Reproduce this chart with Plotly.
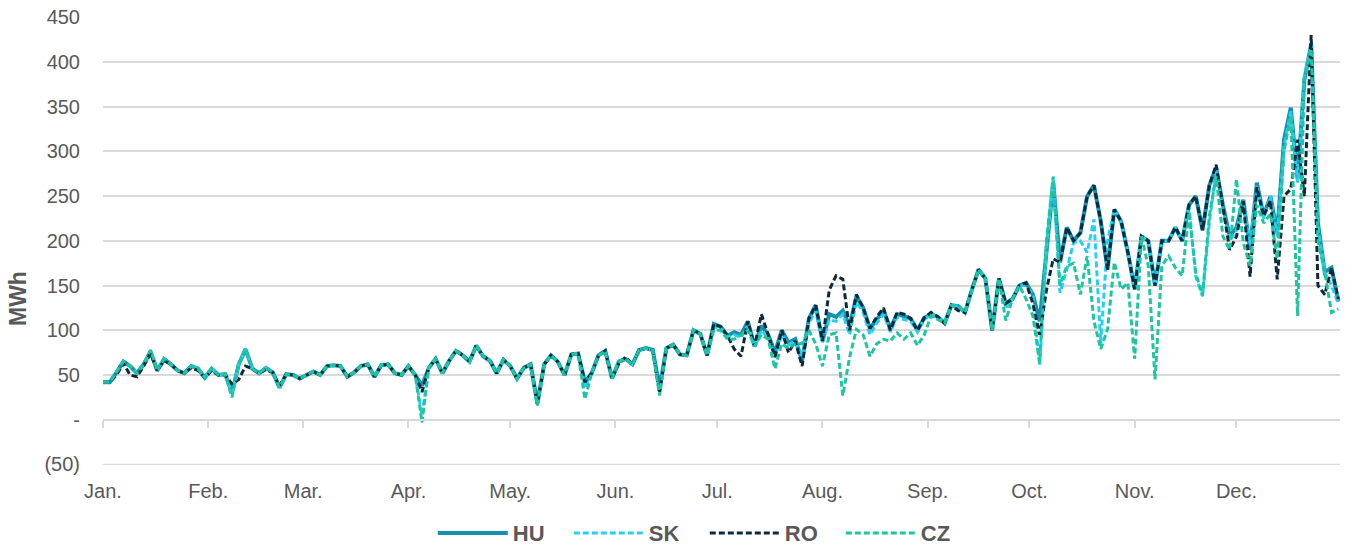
import pandas as pd
import plotly.graph_objects as go

# Samples every 2 days of 2023
dates = pd.date_range("2023-01-01", periods=183, freq="2D")

month_ticks = pd.date_range("2023-01-01", periods=12, freq="MS")
month_labels = ["Jan.", "Feb.", "Mar.", "Apr.", "May.", "Jun.",
                "Jul.", "Aug.", "Sep.", "Oct.", "Nov.", "Dec."]

y_tickvals = [-50, 0, 50, 100, 150, 200, 250, 300, 350, 400, 450]
y_ticktext = ["(50)", "-", "50", "100", "150", "200", "250", "300", "350", "400", "450"]

HU = [
    42, 42, 53, 65, 60, 52, 62, 76, 55, 68, 62, 55, 52, 60, 57,
    47, 57, 50, 51, 30, 62, 79, 57, 52, 58, 53, 36, 51, 50, 46,
    50, 54, 50, 60, 61, 60, 48, 53, 60, 62, 48, 61, 62, 52, 50,
    60, 50, 38, 58, 68, 52, 66, 77, 72, 65, 83, 71, 66, 52, 67,
    60, 46, 58, 62, 18, 62, 72, 65, 50, 73, 74, 42, 52, 72, 77,
    46, 65, 68, 62, 78, 80, 78, 35, 80, 84, 73, 72, 100, 96, 72,
    107, 104, 94, 98, 95, 110, 82, 105, 95, 75, 100, 86, 90, 66, 113,
    128, 88, 118, 115, 122, 105, 138, 125, 102, 112, 122, 102, 118, 116, 113,
    100, 114, 118, 115, 108, 128, 127, 120, 145, 168, 158, 100, 158, 130, 135,
    150, 153, 140, 110, 190, 265, 176, 215, 200, 209, 250, 262, 222, 168, 235,
    222, 187, 146, 205, 200, 150, 200, 200, 215, 200, 240, 250, 212, 262, 282,
    240, 205, 215, 246, 190, 265, 228, 250, 209, 313, 349, 269, 380, 420, 220,
    165, 170, 132,
]

SK = [
    42, 42, 53, 65, 60, 52, 62, 76, 55, 68, 62, 55, 52, 60, 57,
    47, 57, 50, 51, 30, 62, 79, 57, 52, 58, 53, 36, 51, 50, 46,
    50, 54, 50, 60, 61, 60, 48, 53, 60, 62, 48, 61, 62, 52, 50,
    60, 50, 5, 58, 68, 52, 66, 77, 72, 65, 83, 71, 66, 52, 67,
    60, 46, 58, 62, 16, 62, 72, 65, 50, 73, 74, 35, 52, 72, 77,
    46, 65, 68, 62, 78, 80, 78, 30, 80, 84, 73, 72, 100, 96, 72,
    104, 102, 92, 95, 92, 105, 82, 100, 92, 70, 95, 84, 88, 70, 108,
    122, 86, 112, 110, 118, 95, 132, 120, 95, 108, 118, 98, 115, 112, 110,
    98, 112, 118, 115, 108, 128, 127, 120, 145, 168, 158, 100, 158, 125, 135,
    150, 150, 140, 60, 190, 270, 142, 168, 198, 200, 187, 224, 86, 200, 235,
    222, 187, 146, 205, 200, 150, 200, 200, 215, 200, 240, 160, 138, 220, 280,
    235, 200, 212, 242, 195, 262, 225, 250, 205, 305, 345, 265, 385, 418, 215,
    165, 150, 130,
]

RO = [
    42, 42, 50, 63, 50, 48, 60, 74, 55, 66, 62, 55, 52, 58, 55,
    47, 55, 50, 50, 40, 45, 60, 57, 52, 56, 53, 38, 51, 50, 46,
    50, 54, 50, 60, 61, 60, 48, 53, 60, 62, 48, 61, 62, 52, 50,
    60, 50, 31, 58, 68, 52, 66, 77, 72, 65, 83, 71, 66, 52, 67,
    60, 46, 58, 62, 18, 62, 72, 65, 50, 73, 74, 42, 52, 72, 77,
    46, 63, 70, 62, 78, 80, 78, 30, 80, 84, 73, 72, 100, 96, 72,
    107, 104, 94, 79, 71, 110, 82, 118, 95, 70, 100, 75, 88, 60, 113,
    128, 88, 145, 161, 157, 100, 140, 125, 102, 115, 125, 100, 120, 118, 113,
    100, 114, 120, 115, 108, 128, 122, 120, 145, 168, 158, 100, 158, 130, 135,
    150, 153, 130, 95, 145, 180, 176, 215, 200, 209, 250, 262, 222, 168, 235,
    222, 187, 146, 205, 200, 150, 200, 200, 215, 200, 240, 250, 212, 262, 285,
    240, 190, 205, 244, 160, 260, 228, 245, 157, 250, 258, 313, 250, 430, 150,
    140, 170, 135,
]

CZ = [
    42, 42, 53, 65, 60, 52, 62, 78, 55, 68, 62, 55, 52, 60, 57,
    47, 57, 50, 51, 25, 62, 79, 57, 52, 58, 53, 36, 51, 50, 46,
    50, 54, 50, 60, 61, 60, 48, 53, 60, 62, 48, 61, 62, 52, 50,
    60, 50, -3, 58, 68, 52, 66, 77, 72, 65, 83, 71, 66, 52, 67,
    60, 46, 58, 62, 16, 62, 72, 65, 50, 73, 74, 23, 52, 72, 77,
    46, 65, 68, 62, 78, 80, 78, 27, 80, 84, 73, 72, 100, 96, 72,
    100, 100, 90, 90, 95, 100, 82, 95, 90, 57, 85, 80, 85, 85, 100,
    85, 60, 95, 97, 27, 70, 101, 95, 71, 85, 90, 88, 97, 90, 97,
    83, 95, 116, 112, 108, 128, 127, 120, 145, 168, 158, 100, 158, 111, 135,
    150, 135, 116, 64, 200, 272, 150, 172, 175, 140, 183, 110, 79, 101, 176,
    146, 153, 68, 205, 172, 45, 172, 183, 170, 161, 232, 164, 139, 228, 272,
    205, 190, 269, 198, 172, 240, 220, 230, 180, 300, 340, 116, 380, 415, 200,
    165, 120, 124,
]

series = [
    ("HU", HU, "#1590AE", 4, "solid", "x"),
    ("SK", SK, "#22D1F2", 3, "6px,3px", "x"),
    ("RO", RO, "#0B2A3A", 3, "6px,3px", "x"),
    ("CZ", CZ, "#1DC6A0", 3, "6px,3px", "x2"),
]

fig = go.Figure()
for name, vals, color, width, dash, xa in series:
    fig.add_trace(go.Scatter(
        x=dates, y=vals, name=name, mode="lines", xaxis=xa, yaxis="y",
        line=dict(color=color, width=width, dash=dash),
    ))

grid = "#d9d9d9"
txt = "#595959"
font_family = "Liberation Sans, Arial, sans-serif"

fig.update_layout(
    width=1349, height=549,
    margin=dict(l=103, r=9, t=17, b=84, autoexpand=False),
    paper_bgcolor="white", plot_bgcolor="white",
    font=dict(family=font_family, color=txt),
    xaxis=dict(
        type="date",
        range=["2023-01-01", "2023-12-31 12:00"],
        tickmode="array", tickvals=month_ticks, ticktext=month_labels,
        showgrid=False, showline=False, zeroline=False, ticks="",
        tickfont=dict(size=20, color=txt), ticklabelstandoff=12,
    ),
    xaxis2=dict(
        type="date", overlaying="x", matches="x", anchor="free", position=0.1,
        tickmode="array", tickvals=month_ticks,
        showticklabels=False, showgrid=False, zeroline=False,
        ticks="outside", ticklen=7, tickcolor=grid, tickwidth=1.5,
        showline=True, linecolor=grid, linewidth=1.5,
    ),
    yaxis=dict(
        range=[-50.6, 450.3], tickmode="array", tickvals=y_tickvals, ticktext=y_ticktext,
        showgrid=True, gridcolor=grid, gridwidth=1.5, zeroline=False, showline=False,
        tickfont=dict(size=20, color=txt), ticklabelstandoff=22,
    ),
    legend=dict(
        orientation="h", x=0.4865, xanchor="center", y=-0.152, yanchor="middle",
        font=dict(size=22, color=txt, weight="bold"),
        itemwidth=70, entrywidth=51, entrywidthmode="pixels",
        bgcolor="rgba(0,0,0,0)",
    ),
    showlegend=True,
    shapes=[dict(
        type="line", xref="paper", yref="y", x0=0, x1=1, y0=-50, y1=-50,
        line=dict(color=grid, width=1.5), layer="below",
    )],
    annotations=[dict(
        text="MWh", textangle=-90, xref="paper", yref="paper",
        x=-0.0687, y=0.3705, xanchor="center", yanchor="middle", showarrow=False,
        font=dict(size=23, color=txt, weight="bold"),
    )],
)

fig.write_html("out.html", config={"displayModeBar": False},
               post_script="document.body.style.margin='0';")
